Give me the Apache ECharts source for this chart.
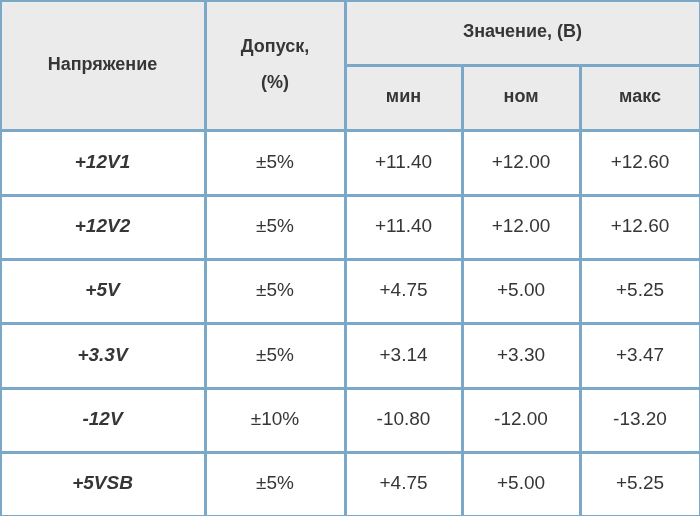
<!DOCTYPE html>
<html><head><meta charset="utf-8">
<script src="https://cdn.jsdelivr.net/npm/echarts@6/dist/echarts.min.js"></script>
<style>html,body{margin:0;padding:0;background:#fff}#c{width:700px;height:516px}</style>
</head><body><div id="c"></div>
<script>
const voltages = ['+12V1','+12V2','+5V','+3.3V','-12V','+5VSB'];
const tolerances = ['±5%','±5%','±5%','±5%','±10%','±5%'];
const minVals = ['+11.40','+11.40','+4.75','+3.14','-10.80','+4.75'];
const nomVals = ['+12.00','+12.00','+5.00','+3.30','-12.00','+5.00'];
const maxVals = ['+12.60','+12.60','+5.25','+3.47','-13.20','+5.25'];
const headerTop = ['Напряжение','Допуск,\n(%)','Значение, (В)'];
const headerSub = ['мин','ном','макс'];

const colEdges = [0,205,345,462,580,700];
const rowEdges = [0,65,130,195,259,323,388,452,516];

const cells = [];
cells.push([0,1,0,2,headerTop[0],'h']);
cells.push([1,1,0,2,headerTop[1],'h']);
cells.push([2,3,0,1,headerTop[2],'h']);
headerSub.forEach((t,i)=>cells.push([2+i,1,1,1,t,'h']));
voltages.forEach((v,r)=>{
  const row=2+r;
  cells.push([0,1,row,1,v,'b']);
  cells.push([1,1,row,1,tolerances[r],'n']);
  cells.push([2,1,row,1,minVals[r],'n']);
  cells.push([3,1,row,1,nomVals[r],'n']);
  cells.push([4,1,row,1,maxVals[r],'n']);
});

const chart = echarts.init(document.getElementById('c'));
chart.setOption({
  animation:false,
  grid:{left:0,right:0,top:0,bottom:0},
  xAxis:{type:'value',min:0,max:700,show:false},
  yAxis:{type:'value',min:0,max:516,inverse:true,show:false},
  series:[{
    type:'custom',
    data:cells.map(c=>({value:[c[0],c[1],c[2],c[3]]})),
    renderItem:function(params,api){
      const d=cells[params.dataIndex];
      const p0=api.coord([colEdges[d[0]],rowEdges[d[2]]]);
      const p1=api.coord([colEdges[d[0]+d[1]],rowEdges[d[2]+d[3]]]);
      const kind=d[5];
      const x=p0[0],y=p0[1],w=p1[0]-p0[0],h=p1[1]-p0[1];
      return {type:'group',children:[
        {type:'rect',shape:{x:x+1,y:y+1,width:w-1,height:h-1},
         style:{fill:kind==='h'?'#ebebeb':'#ffffff',stroke:'#7ca8c8',lineWidth:2}},
        {type:'text',style:{text:d[4],x:x+w/2,y:y+h/2,align:'center',verticalAlign:'middle',
          fill:'#363636',fontFamily:'Liberation Sans, Arial, sans-serif',
          fontSize:kind==='h'?18:19,lineHeight:36,
          fontWeight:kind==='n'?'normal':'bold',fontStyle:kind==='b'?'italic':'normal'}}
      ]};
    }
  }]
});
</script></body></html>
